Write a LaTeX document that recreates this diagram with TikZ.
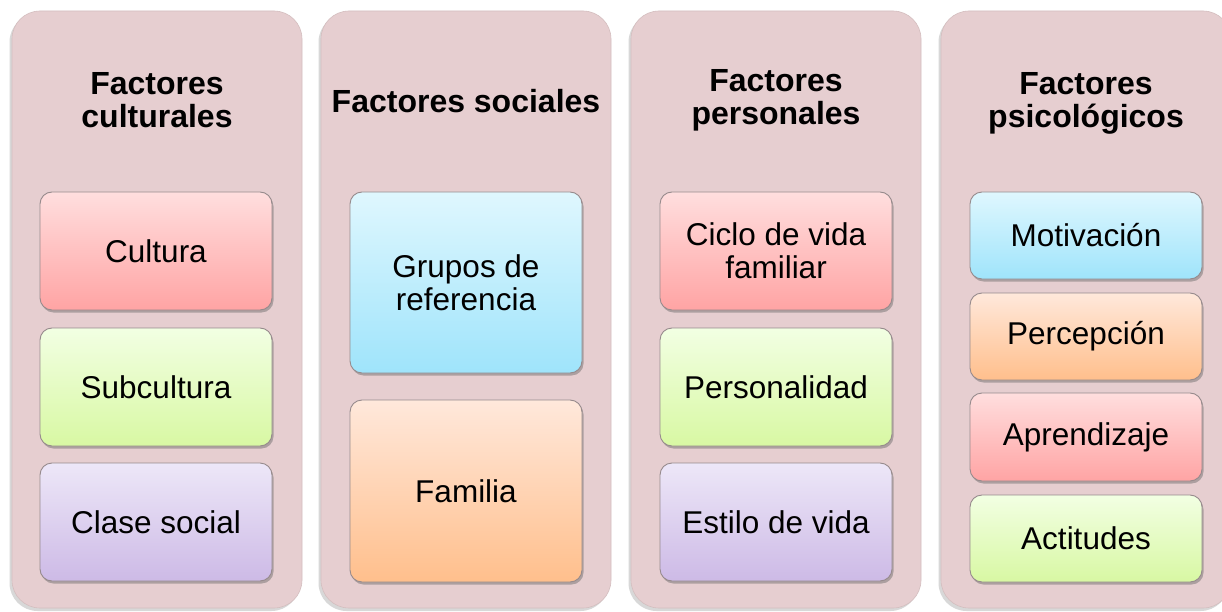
\documentclass[tikz,border=0pt]{standalone}
\usepackage{fontspec}
\setmainfont{Liberation Sans}
\usetikzlibrary{shadows}
\definecolor{outerfill}{HTML}{E6CED0}
\definecolor{boxline}{HTML}{968A8C}
\definecolor{redtop}{HTML}{FFDEDE}
\definecolor{redbot}{HTML}{FFA4A4}
\definecolor{greentop}{HTML}{F2FFE3}
\definecolor{greenbot}{HTML}{D8F8A3}
\definecolor{purptop}{HTML}{EDE7F8}
\definecolor{purpbot}{HTML}{CDBAE6}
\definecolor{bluetop}{HTML}{DFF7FE}
\definecolor{bluebot}{HTML}{9FE4FB}
\definecolor{orantop}{HTML}{FFE8DB}
\definecolor{oranbot}{HTML}{FFBF8C}
\tikzset{
  column/.style={draw=outerfill!92!black, line width=0.6pt, fill=outerfill, rounded corners=28pt,
    minimum width=290pt, minimum height=597pt, inner sep=0pt,
    drop shadow={shadow xshift=-2.5pt, shadow yshift=-3pt, opacity=0.3, fill=black!50}},
  coltitle/.style={font=\fontsize{32pt}{33pt}\selectfont\bfseries, align=center, inner sep=0pt},
  item/.style={draw=boxline, line width=0.9pt, rounded corners=12pt, minimum width=232pt,
    inner sep=0pt, align=center, font=\fontsize{31.5pt}{33pt}\selectfont,
    drop shadow={shadow xshift=1.5pt, shadow yshift=-2.5pt, opacity=0.45, fill=black!60}},
  redbox/.style={item, top color=redtop, bottom color=redbot},
  greenbox/.style={item, top color=greentop, bottom color=greenbot},
  purpbox/.style={item, top color=purptop, bottom color=purpbot},
  bluebox/.style={item, top color=bluetop, bottom color=bluebot},
  oranbox/.style={item, top color=orantop, bottom color=oranbot},
}
\begin{document}
\begin{tikzpicture}[x=1pt, y=-1pt]
\useasboundingbox (0,0) rectangle (1222,612);
\clip (0,0) rectangle (1222,612);
\fill[white] (0,0) rectangle (1222,612);
% columns
\node[column] (c1) at (157,309.5) {};
\node[column] (c2) at (466,309.5) {};
\node[column] (c3) at (776,309.5) {};
\node[column] (c4) at (1086,309.5) {};
% titles
\node[coltitle] (t1) at (157,100) {Factores\\culturales};
\node[coltitle] (t2) at (466,101) {Factores sociales};
\node[coltitle] (t3) at (776,100) {Factores\\personales};
\node[coltitle] (t4) at (1086,103) {Factores\\psicológicos};
% column 1
\node[redbox, minimum height=118pt] (a1) at (156,251) {Cultura};
\node[greenbox, minimum height=118pt] (a2) at (156,387) {Subcultura};
\node[purpbox, minimum height=118pt] (a3) at (156,522) {Clase social};
% column 2
\node[bluebox, minimum height=181pt] (b1) at (466,282.5) {Grupos de\\referencia};
\node[oranbox, minimum height=182pt] (b2) at (466,491) {Familia};
% column 3
\node[redbox, minimum height=118pt] (d1) at (776,251) {Ciclo de vida\\familiar};
\node[greenbox, minimum height=118pt] (d2) at (776,387) {Personalidad};
\node[purpbox, minimum height=118pt] (d3) at (776,522) {Estilo de vida};
% column 4
\node[bluebox, minimum height=87pt] (e1) at (1086,235.5) {Motivación};
\node[oranbox, minimum height=87pt] (e2) at (1086,336.5) {Percepción};
\node[redbox, minimum height=88pt] (e3) at (1086,437) {Aprendizaje};
\node[greenbox, minimum height=87pt] (e4) at (1086,538.5) {Actitudes};
\end{tikzpicture}
\end{document}
